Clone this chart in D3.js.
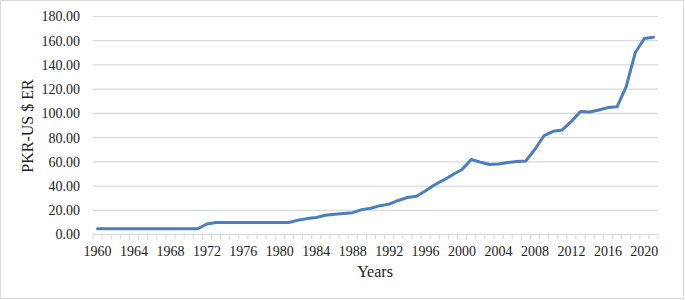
<!DOCTYPE html>
<html lang="en">
  <head>
    <meta charset="UTF-8" />
    <title>PKR-US $ Exchange Rate</title>
    <script src="https://d3js.org/d3.v7.min.js"></script>
    <style>
      body {
        margin: 0;
        padding: 0;
        background: #fff;
      }
      text {
        font-family: "Liberation Serif", "DejaVu Serif", serif;
        fill: #222;
      }
    </style>
  </head>
  <body>
    <svg id="chart" width="685" height="300"></svg>

    <script>
      // Years 1960-2021
      var years = d3.range(1960, 2022);

      // PKR per US $ (annual average)
      var rates = [
        4.76, 4.76, 4.76, 4.76, 4.76, 4.76, 4.76, 4.76, 4.76, 4.76, 4.76, 4.76,
        8.68, 9.99, 9.9, 9.9, 9.9, 9.9, 9.9, 9.9, 9.9, 9.9,
        11.85, 13.12, 14.05, 15.93, 16.65, 17.4, 18.0, 20.54, 21.71, 23.8,
        25.08, 28.11, 30.57, 31.64, 36.08, 41.11, 45.05, 49.5, 53.65, 61.93,
        59.72, 57.75, 58.26, 59.51, 60.27, 60.74, 70.41, 81.71, 85.19, 86.34,
        93.4, 101.63, 101.1, 102.77, 104.77, 105.46, 121.82, 150.04, 161.84, 162.91
      ];

      var yTicks = [0, 20, 40, 60, 80, 100, 120, 140, 160, 180];
      var xLabels = d3.range(1960, 2022, 4);

      var svg = d3.select("#chart");

      // outer border
      svg
        .append("rect")
        .attr("x", 0.5)
        .attr("y", 0.5)
        .attr("width", 683)
        .attr("height", 298)
        .attr("fill", "#fff")
        .attr("stroke", "#d9d9d9");

      var x = d3.scaleBand().domain(years).range([93, 658]);
      var y = d3.scaleLinear().domain([0, 180]).range([234.5, 16.5]);

      // gridlines
      svg
        .append("g")
        .selectAll("line")
        .data(yTicks.slice(1))
        .enter()
        .append("line")
        .attr("x1", 93)
        .attr("x2", 658)
        .attr("y1", function (d) {
          return y(d);
        })
        .attr("y2", function (d) {
          return y(d);
        })
        .attr("stroke", "#d9d9d9")
        .attr("stroke-width", 1.2);

      // y labels
      svg
        .append("g")
        .selectAll("text")
        .data(yTicks)
        .enter()
        .append("text")
        .attr("x", 80)
        .attr("y", function (d) {
          return y(d);
        })
        .attr("dy", "0.35em")
        .attr("text-anchor", "end")
        .attr("font-size", "14px")
        .text(function (d) {
          return d3.format(".2f")(d);
        });

      // x axis line with ticks at category boundaries
      var xAxis = svg.append("g");
      xAxis
        .append("line")
        .attr("x1", 93)
        .attr("x2", 658)
        .attr("y1", y(0))
        .attr("y2", y(0))
        .attr("stroke", "#d9d9d9")
        .attr("stroke-width", 1.2);

      var bounds = years.map(function (d) {
        return x(d);
      });
      bounds.push(x(years[years.length - 1]) + x.bandwidth());
      xAxis
        .selectAll("line.tick")
        .data(bounds)
        .enter()
        .append("line")
        .attr("class", "tick")
        .attr("x1", function (d) {
          return d;
        })
        .attr("x2", function (d) {
          return d;
        })
        .attr("y1", y(0))
        .attr("y2", y(0) + 5)
        .attr("stroke", "#d9d9d9");

      xAxis
        .selectAll("text")
        .data(xLabels)
        .enter()
        .append("text")
        .attr("x", function (d) {
          return x(d) + x.bandwidth() / 2;
        })
        .attr("y", 256)
        .attr("text-anchor", "middle")
        .attr("font-size", "14px")
        .text(function (d) {
          return d;
        });

      // line
      var line = d3
        .line()
        .x(function (d, i) {
          return x(years[i]) + x.bandwidth() / 2;
        })
        .y(function (d) {
          return y(d);
        });

      svg
        .append("path")
        .datum(rates)
        .attr("d", line)
        .attr("fill", "none")
        .attr("stroke", "#4a7ebf")
        .attr("stroke-width", 3)
        .attr("stroke-linejoin", "round")
        .attr("stroke-linecap", "round");

      // axis titles
      svg
        .append("text")
        .attr("x", 375)
        .attr("y", 277)
        .attr("text-anchor", "middle")
        .attr("font-size", "16px")
        .text("Years");

      svg
        .append("text")
        .attr("transform", "translate(33,126) rotate(-90)")
        .attr("text-anchor", "middle")
        .attr("font-size", "16px")
        .text("PKR-US $ ER");
    </script>
  </body>
</html>
